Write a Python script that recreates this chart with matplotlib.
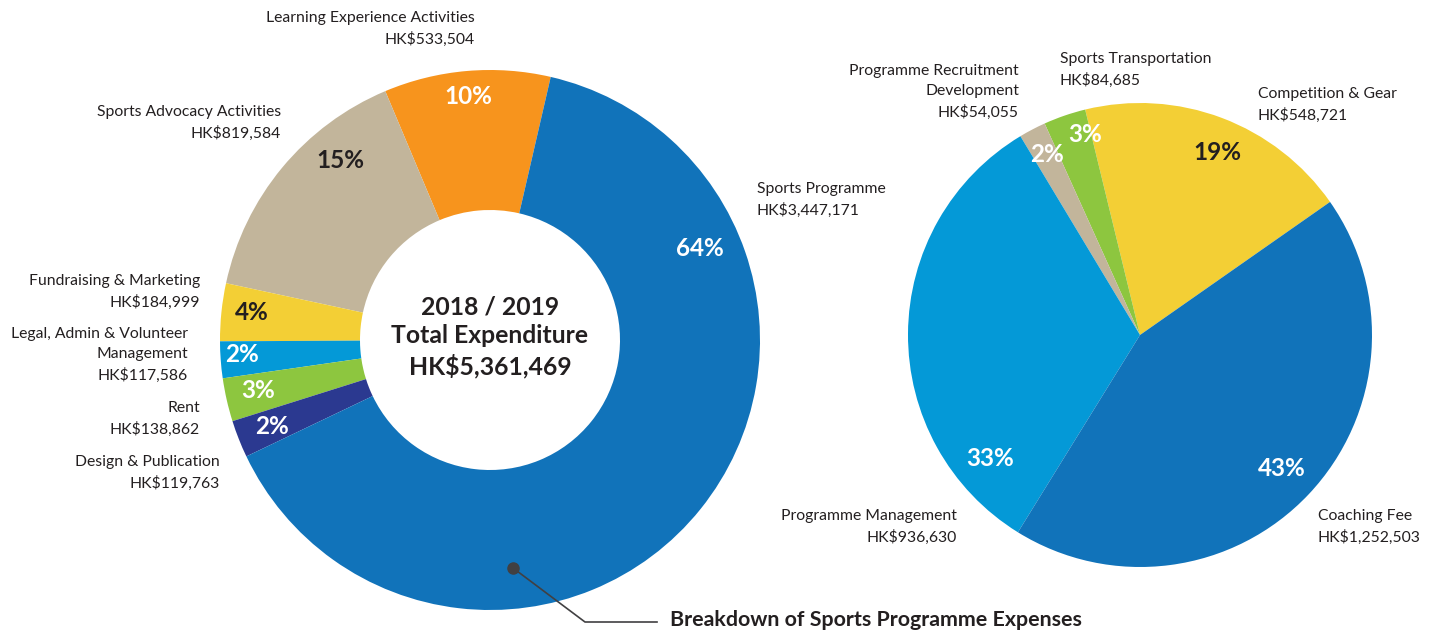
import matplotlib.pyplot as plt

W, H = 1429, 634

# left donut: total expenditure 2018/2019
total_names = ['Learning Experience Activities', 'Sports Advocacy Activities',
               'Fundraising & Marketing', 'Legal, Admin & Volunteer\nManagement',
               'Rent', 'Design & Publication', 'Sports Programme']
total_values = [533504, 819584, 184999, 117586, 138862, 119763, 3447171]
total_pct = ['10%', '15%', '4%', '2%', '3%', '2%', '64%']
total_colors = ['#F7941D', '#C2B59B', '#F3CF35', '#0499D7', '#8DC63F', '#2B3990', '#1173BA']

# right pie: sports programme breakdown
prog_names = ['Competition & Gear', 'Sports Transportation',
              'Programme Recruitment\nDevelopment', 'Programme Management', 'Coaching Fee']
prog_values = [548721, 84685, 54055, 936630, 1252503]
prog_pct = ['19%', '3%', '2%', '33%', '43%']
prog_colors = ['#F3CF35', '#8DC63F', '#C2B59B', '#0499D7', '#1173BA']

plt.rcParams['font.family'] = ['Lato', 'DejaVu Sans']

fig = plt.figure(figsize=(W / 100, H / 100), dpi=100)
ax = fig.add_axes([0, 0, 1, 1])

ax.pie(total_values, colors=total_colors, startangle=77, counterclock=True,
       center=(490, H - 340), radius=270,
       wedgeprops=dict(width=140, linewidth=0))
ax.pie(prog_values, colors=prog_colors, startangle=35, counterclock=True,
       center=(1140, H - 335), radius=232,
       wedgeprops=dict(linewidth=0))

ax.set_xlim(0, W)
ax.set_ylim(0, H)
ax.set_aspect('equal')
ax.axis('off')


def label(x, y, text, ha):
    ax.text(x, H - y - 3, text, ha=ha, va='top', fontsize=11.3, color='#231F20',
            linespacing=1.55)


def pct(x, y, text, color='white'):
    ax.text(x, H - y, text, ha='center', va='center', fontsize=17.5,
            fontweight='bold', color=color)


# label positions (px, top of text)
label(475, 8, total_names[0] + '\nHK$533,504', 'right')
label(281, 102, total_names[1] + '\nHK$819,584', 'right')
label(200, 271, total_names[2] + '\nHK$184,999', 'right')
label(188, 324, total_names[3] + '\nHK$117,586', 'right')
label(200, 398, total_names[4] + '\nHK$138,862', 'right')
label(220, 452, total_names[5] + '\nHK$119,763', 'right')
label(757, 179, total_names[6] + '\nHK$3,447,171', 'left')

pct(468, 97, total_pct[0])
pct(340, 160, total_pct[1], '#231F20')
pct(252, 312, total_pct[2], '#231F20')
pct(242, 354, total_pct[3])
pct(258, 391, total_pct[4])
pct(272, 427, total_pct[5])
pct(700, 248, total_pct[6])

ax.text(490, H - 337, '2018 / 2019\nTotal Expenditure\nHK$5,361,469', ha='center',
        va='center', fontsize=17.8, fontweight='bold', color='#231F20', linespacing=1.33)

label(1258, 84, prog_names[0] + '\nHK$548,721', 'left')
label(1060, 49, prog_names[1] + '\nHK$84,685', 'left')
label(1019, 61, prog_names[2] + '\nHK$54,055', 'right')
label(957, 506, prog_names[3] + '\nHK$936,630', 'right')
label(1318, 506, prog_names[4] + '\nHK$1,252,503', 'left')

pct(1217, 153, prog_pct[0], '#231F20')
pct(1085, 135, prog_pct[1])
pct(1047, 155, prog_pct[2])
pct(990, 459, prog_pct[3])
pct(1282, 468, prog_pct[4])

# leader from the sports programme wedge to the breakdown
ax.plot([513, 585, 657], [H - 568, H - 622, H - 622], color='#414042', lw=1.2)
ax.plot(513, H - 568, 'o', color='#414042', ms=8)
ax.text(670, H - 620, 'Breakdown of Sports Programme Expenses', ha='left', va='center',
        fontsize=15.4, fontweight='bold', color='#231F20')

fig.savefig('out.png', dpi=100, facecolor='white')
